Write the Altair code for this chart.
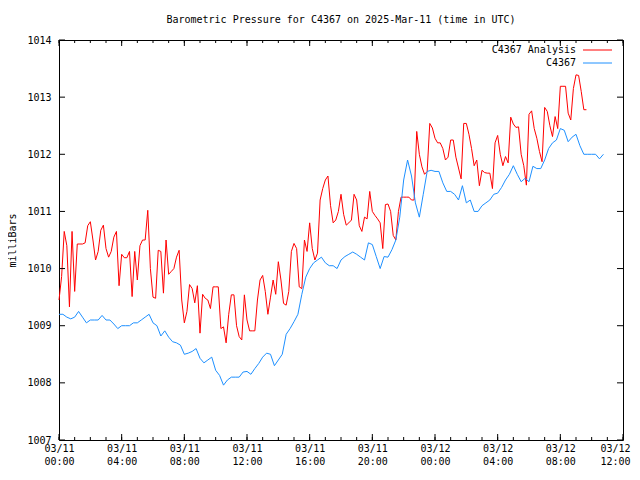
import altair as alt
import pandas as pd

TITLE = "Barometric Pressure for C4367 on 2025-Mar-11 (time in UTC)"
Y_TITLE = "milliBars"
SERIES = ["C4367 Analysis", "C4367"]
COLORS = ["#ff0000", "#1e90ff"]
FONT = "DejaVu Sans Mono"

# hours after 2025-03-11 00:00 UTC
ANALYSIS_STEP_MIN = 10
ANALYSIS = [
    1009.45, 1009.86, 1010.65, 1010.4, 1009.33, 1010.65, 1009.6, 1010.43, 1010.43, 1010.43,
    1010.45, 1010.75, 1010.82, 1010.5, 1010.15, 1010.3, 1010.67, 1010.76, 1010.35, 1010.2,
    1010.3, 1010.55, 1010.65, 1009.7, 1010.25, 1010.19, 1010.19, 1010.3, 1009.51, 1010.3,
    1009.8, 1010.4, 1010.5, 1010.5, 1011.02, 1010.0, 1009.5, 1009.48, 1010.32, 1010.3,
    1009.57, 1010.5, 1009.9, 1009.95, 1010.0, 1010.2, 1010.32, 1009.45, 1009.05, 1009.25,
    1009.72, 1009.65, 1009.4, 1009.7, 1008.87, 1009.55, 1009.48, 1009.45, 1009.3, 1009.68,
    1009.68, 1009.68, 1008.95, 1008.98, 1008.7, 1009.2, 1009.54, 1009.54, 1009.0, 1008.81,
    1008.75, 1009.54, 1009.1, 1008.91, 1008.91, 1008.91, 1009.45, 1009.8, 1009.88, 1009.6,
    1009.2, 1009.5, 1009.8, 1009.55, 1010.12, 1009.8, 1009.39, 1009.36, 1009.6, 1010.3,
    1010.44, 1010.35, 1009.68, 1009.65, 1010.5, 1010.3, 1010.8, 1010.35, 1010.15, 1010.27,
    1011.2, 1011.4, 1011.55, 1011.62, 1011.1, 1010.8, 1010.85, 1011.0, 1011.3, 1010.95,
    1010.76, 1010.8, 1010.85, 1011.3, 1011.2, 1010.75, 1010.65, 1010.9, 1010.87, 1011.35,
    1011.0, 1010.93, 1010.87, 1010.8, 1010.35, 1011.12, 1011.13, 1011.0, 1010.58, 1010.5,
    1011.0, 1011.25, 1011.25, 1011.25, 1011.25, 1011.2, 1011.2, 1012.4, 1012.0, 1011.78,
    1011.65, 1011.7, 1012.54, 1012.46, 1012.28, 1012.2, 1012.2, 1012.1, 1011.9, 1011.95,
    1012.25, 1012.25, 1011.95, 1011.76, 1011.57, 1012.54, 1012.54, 1012.35, 1012.1, 1011.8,
    1011.9, 1011.45, 1011.72, 1011.68, 1011.67, 1011.67, 1011.4, 1012.2, 1012.33, 1012.0,
    1011.8, 1011.96, 1011.85, 1012.65, 1012.53, 1012.47, 1012.48, 1012.0, 1011.8, 1011.46,
    1012.7, 1012.76, 1012.45, 1012.28, 1012.05, 1011.87, 1012.82, 1012.75, 1012.5, 1012.31,
    1012.66, 1012.45, 1013.19, 1013.19, 1013.19, 1012.72, 1012.6, 1013.15, 1013.39, 1013.38,
    1013.1, 1012.78, 1012.78,
]

OBS_STEP_MIN = 15
OBS = [
    1009.2, 1009.2, 1009.15, 1009.12, 1009.15, 1009.25, 1009.15, 1009.05, 1009.1, 1009.1,
    1009.1, 1009.18, 1009.1, 1009.1, 1009.03, 1008.95, 1009.0, 1009.0, 1009.0, 1009.05,
    1009.05, 1009.1, 1009.15, 1009.2, 1009.05, 1009.0, 1008.82, 1008.91, 1008.8, 1008.72,
    1008.7, 1008.66, 1008.5, 1008.52, 1008.55, 1008.6, 1008.43, 1008.35, 1008.4, 1008.45,
    1008.22, 1008.13, 1007.96, 1008.05, 1008.1, 1008.1, 1008.1, 1008.19, 1008.2, 1008.15,
    1008.25, 1008.34, 1008.45, 1008.52, 1008.5, 1008.3, 1008.4, 1008.5, 1008.85, 1008.95,
    1009.07, 1009.2, 1009.55, 1009.85, 1010.0, 1010.1, 1010.15, 1010.2, 1010.1, 1010.05,
    1010.05, 1010.0, 1010.15, 1010.21, 1010.25, 1010.29, 1010.25, 1010.2, 1010.15, 1010.45,
    1010.42, 1010.21, 1010.0, 1010.21, 1010.2, 1010.33, 1010.5, 1010.9, 1011.55, 1011.9,
    1011.62, 1011.15, 1010.9, 1011.3, 1011.7, 1011.72, 1011.7, 1011.7, 1011.5, 1011.35,
    1011.35, 1011.3, 1011.2, 1011.45, 1011.15, 1011.2, 1011.0, 1011.0, 1011.1, 1011.15,
    1011.2, 1011.3, 1011.32, 1011.42, 1011.55, 1011.65, 1011.8, 1011.65, 1011.52, 1011.58,
    1011.52, 1011.79, 1011.75, 1011.75, 1011.9, 1012.1, 1012.2, 1012.25, 1012.45, 1012.42,
    1012.22, 1012.3, 1012.35, 1012.15, 1012.0, 1012.0, 1012.0, 1012.0, 1011.92, 1012.0,
]

X_TICKS = [0, 4, 8, 12, 16, 20, 24, 28, 32, 36]
X_TICK_LABELS = [
    ["03/11", "00:00"], ["03/11", "04:00"], ["03/11", "08:00"], ["03/11", "12:00"],
    ["03/11", "16:00"], ["03/11", "20:00"], ["03/12", "00:00"], ["03/12", "04:00"],
    ["03/12", "08:00"], ["03/12", "12:00"],
]
X_MINOR = list(range(0, 37))
Y_TICKS = [1007, 1008, 1009, 1010, 1011, 1012, 1013, 1014]

W, H = 564, 400

ana = pd.DataFrame({"hour": [i * ANALYSIS_STEP_MIN / 60 for i in range(len(ANALYSIS))], "p": ANALYSIS})
obs = pd.DataFrame({"hour": [i * OBS_STEP_MIN / 60 for i in range(len(OBS))], "p": OBS})

labels_js = "[" + ",".join("['%s','%s']" % (a, b) for a, b in X_TICK_LABELS) + "]"

x_enc = alt.X(
    "hour:Q",
    scale=alt.Scale(domain=[0, 36], nice=False, zero=False),
    axis=alt.Axis(
        values=X_TICKS, labelExpr=f"{labels_js}[round(datum.value / 4)]",
        ticks=False, domain=False, grid=False, labelPadding=3,
        labelFont=FONT, labelFontSize=10, labelLineHeight=13, labelColor="black",
        labelAngle=0, labelAlign="center", labelBaseline="top",
        labelOffset={"condition": {"test": f"datum.value == {X_TICKS[-1]}", "value": -8}, "value": 0},
        labelFlush=False, labelOverlap=False, labelBound=False, title=None,
    ),
)
y_enc = alt.Y(
    "p:Q",
    scale=alt.Scale(domain=[1007, 1014], nice=False, zero=False),
    axis=alt.Axis(
        values=Y_TICKS, format="d", ticks=False, domain=False, grid=False,
        labelPadding=8, labelFont=FONT, labelFontSize=10, labelColor="black",
        title=Y_TITLE, titleFont=FONT, titleFontSize=10, titleFontWeight="normal",
        titleColor="black", titlePadding=9,
    ),
)

line_ana = alt.Chart(ana).mark_line(strokeWidth=1, color=COLORS[0]).encode(x=x_enc, y=y_enc)
line_obs = alt.Chart(obs).mark_line(strokeWidth=1, color=COLORS[1]).encode(x=x_enc, y=y_enc)

minor_df = pd.DataFrame({"hour": X_MINOR})
major_df = pd.DataFrame({"hour": X_TICKS})
ytick_df = pd.DataFrame({"p": Y_TICKS})

tick_layers = [
    alt.Chart(minor_df).mark_rule(color="black", strokeWidth=1).encode(x=x_enc, y=alt.value(H), y2=alt.value(H - 3)),
    alt.Chart(minor_df).mark_rule(color="black", strokeWidth=1).encode(x=x_enc, y=alt.value(0), y2=alt.value(3)),
    alt.Chart(major_df).mark_rule(color="black", strokeWidth=1).encode(x=x_enc, y=alt.value(H), y2=alt.value(H - 6)),
    alt.Chart(major_df).mark_rule(color="black", strokeWidth=1).encode(x=x_enc, y=alt.value(0), y2=alt.value(6)),
    alt.Chart(ytick_df).mark_rule(color="black", strokeWidth=1).encode(y=y_enc, x=alt.value(0), x2=alt.value(6)),
    alt.Chart(ytick_df).mark_rule(color="black", strokeWidth=1).encode(y=y_enc, x=alt.value(W - 6), x2=alt.value(W)),
]

legend_layers = []
for i, (name, col) in enumerate(zip(SERIES, COLORS)):
    ldf = pd.DataFrame({"series": [name]})
    ry = 10 + 13 * i
    legend_layers.append(
        alt.Chart(ldf).mark_text(align="right", baseline="middle", font=FONT, fontSize=10, color="black")
        .encode(text="series:N", x=alt.value(W - 47), y=alt.value(ry))
    )
    legend_layers.append(
        alt.Chart(ldf).mark_rule(strokeWidth=1, color=col)
        .encode(x=alt.value(W - 40), x2=alt.value(W - 11), y=alt.value(ry))
    )

chart = alt.layer(line_ana, line_obs, *tick_layers, *legend_layers).properties(
    width=W, height=H,
    title=alt.TitleParams(TITLE, font=FONT, fontSize=10, fontWeight="normal", color="black",
                          anchor="middle", frame="group", offset=10),
    padding={"left": 51, "top": 32, "right": 9, "bottom": 28},
    autosize=alt.AutoSizeParams(type="none"),
).configure_view(stroke="black", strokeWidth=1)

chart.save("out.html", embed_options={"renderer": "svg", "actions": False})
